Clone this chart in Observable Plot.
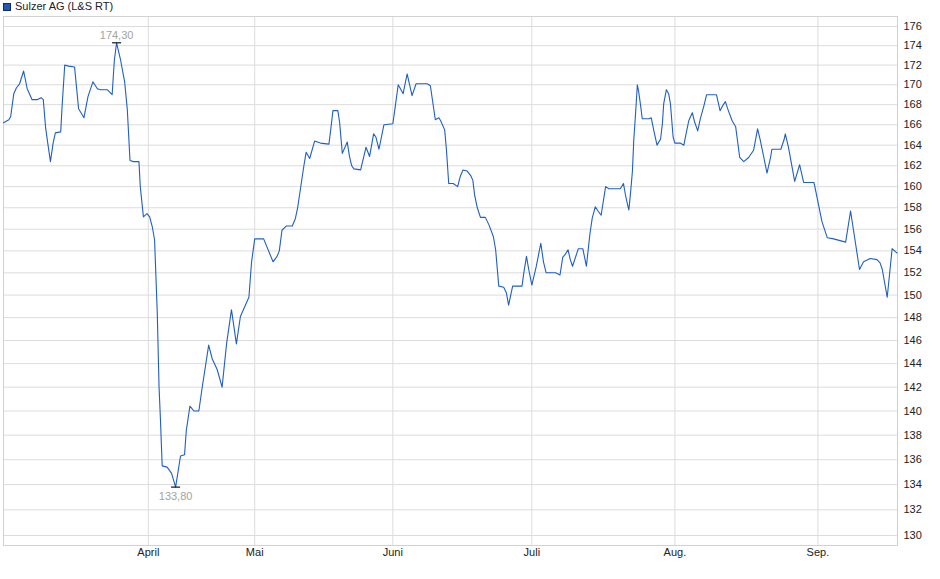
<!DOCTYPE html>
<html>
<head>
<meta charset="utf-8">
<script src="https://cdn.jsdelivr.net/npm/d3@7"></script>
<script src="https://cdn.jsdelivr.net/npm/@observablehq/plot@0.6"></script>
<style>
  html, body { margin: 0; padding: 0; background: #fff; }
  #wrap { position: relative; width: 940px; height: 579px; font-family: "Liberation Sans", Arial, sans-serif; }
  #legend { position: absolute; left: 3px; top: 0px; font-size: 11px; color: #222; line-height: 13px; display: flex; align-items: center; }
  #legend .sw { width: 6px; height: 6px; background: #1f58b8; border: 1px solid #1a2a55; margin-right: 4px; }
</style>
</head>
<body>
<div id="wrap">
  <div id="legend"><span class="sw"></span><span id="legendText"></span></div>
  <div id="chart"></div>
</div>
<script>
const seriesName = "Sulzer AG (L&S RT)";

// sample position (trading-period index) and price
const t = [0, 1.2, 1.6, 2.3, 2.9, 3.6, 4.5, 5.3, 6.4, 7.5, 8.4, 8.9, 9.4, 9.9, 10.5, 11.1, 11.6, 12.8, 13.1, 13.7,
  14.6, 15.9, 16.8, 18.0, 18.9, 20.0, 21.0, 21.7, 23.2, 24.3, 24.8, 25.3, 26.2, 27.1, 27.7, 28.3, 29.1, 30.3, 30.6, 31.3,
  32.1, 32.7, 33.3, 33.8, 34.4, 34.8, 35.1, 35.5, 36.6, 37.6, 38.5, 39.6, 40.5, 40.9, 41.7, 42.6, 43.7, 44.5, 45.9, 46.7,
  47.8, 48.9, 49.9, 51.0, 52.1, 53.0, 54.9, 55.5, 56.2, 58.2, 60.3, 61.2, 61.7, 62.3, 63.3, 64.6, 65.3, 65.8, 67.2, 67.7,
  68.5, 69.6, 70.9, 72.8, 73.2, 73.7, 74.8, 75.2, 75.8, 76.9, 77.4, 77.9, 78.4, 79.9, 81.1, 81.9, 82.8, 83.3, 84.0, 85.1,
  87.1, 87.7, 88.3, 88.8, 89.4, 90.3, 91.4, 92.3, 94.8, 95.5, 96.6, 97.4, 97.8, 98.7, 99.1, 99.6, 100.6, 101.6, 102.2, 102.8,
  103.7, 104.6, 105.0, 105.4, 106.0, 106.7, 107.8, 108.6, 109.6, 110.1, 110.8, 111.9, 112.5, 113.0, 113.9, 116.0, 116.4, 117.0, 117.5, 118.2,
  119.2, 120.2, 120.8, 121.4, 123.5, 124.5, 125.1, 125.7, 126.3, 126.8, 127.3, 128.6, 129.6, 130.1, 130.4, 131.2, 131.7, 132.4, 133.0, 133.7,
  134.7, 135.4, 138.0, 138.7, 139.1, 139.6, 139.9, 140.3, 140.7, 141.0, 141.4, 141.8, 142.1, 142.5, 142.9, 144.4, 144.9, 145.5, 146.2, 147.0,
  147.4, 147.7, 148.3, 148.8, 149.2, 149.8, 150.2, 151.4, 152.2, 152.7, 153.3, 154.1, 154.6, 155.3, 155.9, 156.7, 157.3, 159.5, 160.3, 160.9,
  161.5, 162.0, 163.0, 163.8, 164.1, 164.7, 165.6, 166.7, 167.8, 168.7, 169.3, 170.1, 170.8, 171.6, 171.9, 173.9, 174.6, 174.9, 175.6, 177.0,
  178.1, 179.0, 181.3, 181.6, 183.1, 184.3, 185.7, 188.4, 189.5, 191.5, 192.4, 193.9, 195.4, 196.1, 196.6, 197.7, 198.8, 199.9];

const price = [166.2, 166.5, 166.8, 169.1, 169.7, 170.1, 171.4, 169.6, 168.5, 168.5, 168.7, 168.5, 165.8, 164.2, 162.4, 164.2, 165.2, 165.3, 167.8, 172.0,
  171.9, 171.8, 167.6, 166.7, 168.8, 170.3, 169.6, 169.5, 169.5, 169.0, 172.5, 174.3, 172.5, 170.3, 167.5, 162.5, 162.4, 162.4, 160.0, 157.15,
  157.45, 157.15, 156.2, 155.0, 148.4, 142.0, 139.4, 135.5, 135.4, 134.9, 133.8, 136.3, 136.4, 138.4, 140.4, 140.0, 140.0, 142.1, 145.6, 144.4,
  143.5, 142.0, 145.7, 148.7, 145.7, 148.1, 149.8, 153.0, 155.1, 155.1, 153.0, 153.5, 154.0, 155.9, 156.3, 156.3, 157.0, 158.0, 162.0, 163.3,
  162.7, 164.4, 164.2, 164.1, 165.5, 167.4, 167.4, 166.2, 163.2, 164.3, 162.9, 162.0, 161.7, 161.6, 163.8, 162.9, 165.1, 164.8, 163.6, 166.0,
  166.1, 168.0, 170.0, 169.6, 169.1, 171.1, 168.9, 170.1, 170.1, 169.9, 166.5, 166.7, 166.4, 165.5, 163.5, 160.3, 160.3, 160.0, 161.0, 161.6,
  161.5, 161.0, 160.6, 159.2, 158.0, 157.1, 157.1, 156.4, 155.3, 154.1, 150.8, 150.7, 150.2, 149.1, 150.8, 150.8, 152.0, 153.5, 152.3, 150.9,
  152.6, 154.7, 153.0, 152.0, 152.0, 151.8, 153.4, 153.7, 154.1, 153.2, 152.6, 154.2, 154.2, 153.2, 152.6, 155.6, 157.0, 158.1, 157.7, 157.3,
  160.0, 159.8, 159.8, 160.3, 159.3, 158.3, 157.8, 159.5, 161.5, 164.5, 167.1, 170.0, 169.3, 168.0, 166.6, 166.6, 166.7, 165.4, 164.0, 164.6,
  166.1, 168.1, 169.5, 169.1, 168.1, 164.8, 164.2, 164.2, 164.0, 165.1, 166.4, 167.2, 166.3, 165.4, 166.6, 167.9, 169.0, 169.0, 167.4, 167.9,
  168.3, 167.6, 166.4, 165.8, 164.8, 162.8, 162.4, 162.8, 163.5, 165.6, 164.5, 162.8, 161.3, 162.8, 163.6, 163.6, 164.5, 165.1, 163.8, 160.5,
  162.1, 160.4, 160.4, 159.8, 156.7, 155.2, 155.1, 154.8, 157.7, 152.3, 153.0, 153.3, 153.2, 152.9, 152.3, 149.8, 154.2, 153.8];

const monthTicks = [32.4, 56.2, 87.1, 118.2, 150.2, 182.2];
const monthLabels = ["April", "Mai", "Juni", "Juli", "Aug.", "Sep."];
const yTicks = [130, 132, 134, 136, 138, 140, 142, 144, 146, 148, 150, 152, 154, 156, 158, 160,
  162, 164, 166, 168, 170, 172, 174, 176];

document.getElementById("legendText").textContent = seriesName;

const data = t.map((d, i) => ({t: d, price: price[i]}));
const maxPt = data[d3.maxIndex(data, d => d.price)];
const minPt = data[d3.minIndex(data, d => d.price)];
const fmt = v => v.toFixed(2).replace(".", ",");

const hbar = {
  draw(context, size) {
    const w = 4.5;
    context.moveTo(-w, 0);
    context.lineTo(w, 0);
  }
};

const chart = Plot.plot({
  width: 940,
  height: 579,
  marginTop: 16,
  marginBottom: 34,
  marginLeft: 3,
  marginRight: 43,
  style: {fontFamily: "'Liberation Sans', Arial, sans-serif", fontSize: "11px", color: "#222", background: "#fff"},
  x: {type: "linear", domain: [0, 200], label: null},
  y: {type: "log", domain: [129.23, 177.05], label: null},
  marks: [
    Plot.gridY(yTicks, {stroke: "#dcdcdc", strokeOpacity: 1}),
    Plot.gridX(monthTicks, {stroke: "#dcdcdc", strokeOpacity: 1}),
    Plot.frame({stroke: "#d2d2d2"}),
    Plot.axisY(yTicks, {anchor: "right", label: null, tickSize: 0, tickPadding: 6, fill: "#222", fontSize: 11, tickFormat: d => String(d)}),
    Plot.axisX(monthTicks, {anchor: "bottom", label: null, tickSize: 0, tickPadding: 3, fill: "#222", fontSize: 11,
      tickFormat: d => monthLabels[monthTicks.indexOf(d)]}),
    Plot.line(data, {x: "t", y: "price", stroke: "#1f5fc4", strokeWidth: 1.1}),
    Plot.dot([maxPt, minPt], {x: "t", y: "price", symbol: hbar, stroke: "#111", strokeWidth: 1.2, fill: "none", r: 3}),
    Plot.text([maxPt], {x: "t", y: "price", text: d => fmt(d.price), lineAnchor: "bottom", dy: -4, fill: "#a3a3a3", fontSize: 11}),
    Plot.text([minPt], {x: "t", y: "price", text: d => fmt(d.price), lineAnchor: "top", dy: 5, fill: "#a3a3a3", fontSize: 11})
  ]
});
document.getElementById("chart").appendChild(chart);
</script>
</body>
</html>
